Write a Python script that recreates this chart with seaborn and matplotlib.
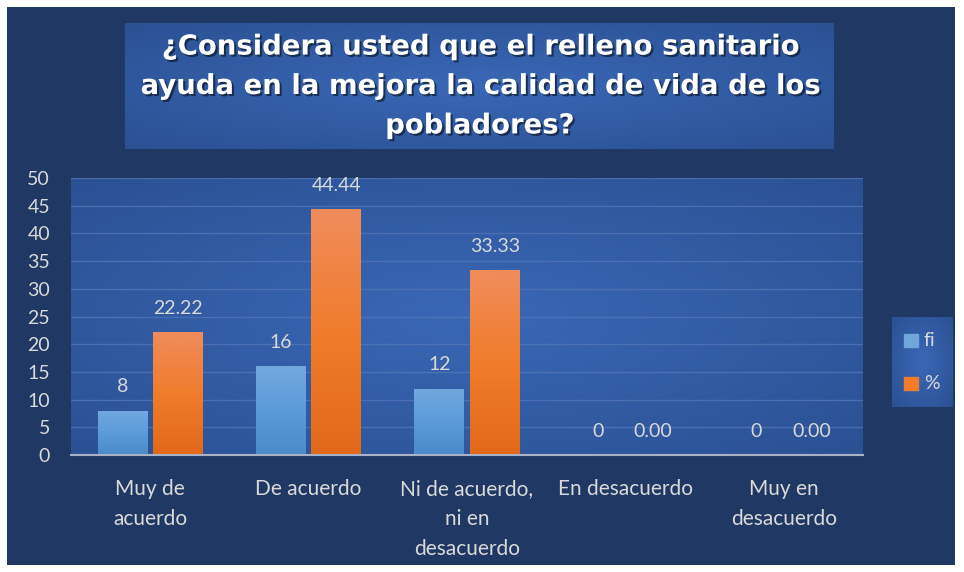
import numpy as np
import pandas as pd
import seaborn as sns
import matplotlib.pyplot as plt
import matplotlib.patheffects as pe
from matplotlib.colors import LinearSegmentedColormap

# Data
categories = ["Muy de\nacuerdo", "De acuerdo", "Ni de acuerdo,\nni en\ndesacuerdo",
              "En desacuerdo", "Muy en\ndesacuerdo"]
fi_values = [8, 16, 12, 0, 0]
pct_values = [22.22, 44.44, 33.33, 0.00, 0.00]
series_names = ["fi", "%"]
title = "¿Considera usted que el relleno sanitario\nayuda en la mejora la calidad de vida de los\npobladores?"

df = pd.DataFrame({
    "categoria": categories * 2,
    "valor": fi_values + pct_values,
    "serie": [series_names[0]] * len(categories) + [series_names[1]] * len(categories),
})

sns.set_style("white")
plt.rcParams["font.family"] = ["Lato", "DejaVu Sans"]

NAVY = "#203864"
TEXT = "#D9D9D9"
blue_cmap = LinearSegmentedColormap.from_list("b", ["#4A8BCB", "#5C9BDA", "#72A8DE"])
orange_cmap = LinearSegmentedColormap.from_list("o", ["#E2691A", "#F07C2C", "#F08C5C"])
panel_cmap = LinearSegmentedColormap.from_list("p", ["#2B5193", "#3A67B6"])


def radial(nx=200, ny=120):
    x = np.linspace(-1, 1, nx)
    y = np.linspace(-1, 1, ny)
    X, Y = np.meshgrid(x, y)
    return 1 - np.clip(np.sqrt(X ** 2 + Y ** 2) / 1.4, 0, 1)


fig = plt.figure(figsize=(9.64, 5.72), dpi=100)
fig.patch.set_facecolor("white")

# navy background panel
bg = fig.add_axes([7 / 964, 7 / 572, 948 / 964, 558 / 572])
bg.set_facecolor(NAVY)
bg.set_xticks([])
bg.set_yticks([])
for s in bg.spines.values():
    s.set_visible(False)

# main plot
ax = fig.add_axes([71 / 964, 1 - 455 / 572, 792 / 964, 277 / 572])
sns.barplot(data=df, x="categoria", y="valor", hue="serie", ax=ax,
            palette=["#5C9BDA", "#F07C2C"], width=0.7, gap=0.1,
            saturation=1, legend=False, zorder=3, linewidth=0, edgecolor="none")

ax.set_ylim(0, 50)
ax.set_xlim(-0.5, len(categories) - 0.5)
ax.imshow(radial(), cmap=panel_cmap, extent=(-0.5, len(categories) - 0.5, 0, 50),
          aspect="auto", zorder=0, vmin=0, vmax=1)

# gradient fill on bars
for cont, cmap in zip(ax.containers, [blue_cmap, orange_cmap]):
    for bar in cont:
        h = bar.get_height()
        if h <= 0:
            continue
        x0 = bar.get_x()
        grad = np.linspace(0, 1, 100).reshape(-1, 1)
        im = ax.imshow(grad, cmap=cmap, origin="lower", aspect="auto",
                       extent=(x0, x0 + bar.get_width(), 0, h), zorder=4)
        im.set_clip_path(bar)

ax.set_ylim(0, 50)
ax.set_xlim(-0.5, len(categories) - 0.5)

ax.bar_label(ax.containers[0], labels=[f"{v:d}" for v in fi_values],
             padding=11, color=TEXT, fontsize=14)
ax.bar_label(ax.containers[1], labels=[f"{v:.2f}" for v in pct_values],
             padding=11, color=TEXT, fontsize=14)

ax.set_yticks(range(0, 51, 5))
ax.yaxis.grid(True, color="#5678B8", linewidth=1, alpha=0.7, zorder=1)
ax.set_axisbelow(True)
ax.tick_params(axis="y", length=0, labelsize=14, labelcolor=TEXT, pad=15)
ax.tick_params(axis="x", which="major", length=0, labelsize=15, labelcolor=TEXT, pad=17)
ax.set_xticks(np.arange(-0.5, len(categories)), minor=True)
ax.tick_params(axis="x", which="minor", length=6, width=1.5, color="#A9B1C6", direction="out")
ax.set_xlabel("")
ax.set_ylabel("")
for name, s in ax.spines.items():
    s.set_visible(name == "bottom")
ax.spines["bottom"].set_color("#A9B1C6")
ax.spines["bottom"].set_linewidth(1.5)
ax.spines["bottom"].set_zorder(5)
for lbl in ax.get_xticklabels():
    lbl.set_linespacing(1.65)
    lbl.set_va("top")

# title box
tax = fig.add_axes([125 / 964, 1 - 149 / 572, 709 / 964, 126 / 572])
tax.imshow(radial(), cmap=panel_cmap, extent=(0, 1, 0, 1), aspect="auto", vmin=0, vmax=1)
tax.set_xlim(0, 1)
tax.set_ylim(0, 1)
tax.axis("off")
tax.text(0.5, 0.5, title, ha="center", va="center", color="white", fontsize=19.8,
         fontweight="bold", linespacing=1.52, family=["DejaVu Sans"],
         path_effects=[pe.withSimplePatchShadow(offset=(1.5, -1.5), shadow_rgbFace="black", alpha=0.5)])

# legend box
lax = fig.add_axes([892 / 964, 1 - 407 / 572, 61 / 964, 90 / 572])
lax.imshow(radial(60, 90), cmap=panel_cmap, extent=(0, 1, 0, 1), aspect="auto", vmin=0, vmax=1)
lax.set_xlim(0, 1)
lax.set_ylim(0, 1)
lax.axis("off")
for yy, name, col in zip([0.74, 0.26], series_names, ["#6FA6DC", "#F07C2C"]):
    lax.add_patch(plt.Rectangle((0.2, yy - 0.075), 0.22, 0.15, color=col))
    lax.text(0.52, yy, name, color=TEXT, fontsize=14, va="center", ha="left")

fig.savefig("out.png", dpi=100)
